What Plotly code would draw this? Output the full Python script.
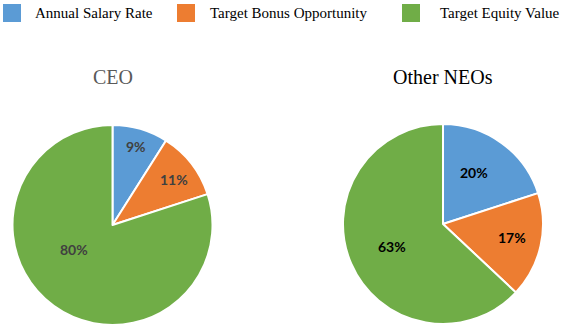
import plotly.graph_objects as go

# Pay-mix components and shares (%)
components = ["Annual Salary Rate", "Target Bonus Opportunity", "Target Equity Value"]
ceo_mix = [9, 11, 80]
neo_mix = [20, 17, 63]
group_titles = ["CEO", "Other NEOs"]

W, H = 565, 327
colors = ["#5B9BD5", "#ED7D31", "#70AD47"]
serif = "Liberation Serif, Times New Roman, serif"
sans = "Lato, Carlito, Calibri, sans-serif"


def px_to_paper(x, y):
    return x / W, 1 - y / H


# Pie placement (centre x, centre y, radius) in pixels
pies = [
    dict(cx=112.5, cy=225, r=100, title_color="#595959", label_color="#404040",
         label_pos=[(136, 146), (174, 179), (74, 249)]),
    dict(cx=443, cy=224, r=100, title_color="#000000", label_color="#000000",
         label_pos=[(474, 172), (512, 237), (392, 247)]),
]

fig = go.Figure()
annotations = []
shapes = []

for vals, title, p in zip([ceo_mix, neo_mix], group_titles, pies):
    x0, y1 = px_to_paper(p["cx"] - p["r"], p["cy"] - p["r"])
    x1, y0 = px_to_paper(p["cx"] + p["r"], p["cy"] + p["r"])
    fig.add_trace(go.Pie(
        labels=components,
        values=vals,
        sort=False,
        direction="clockwise",
        rotation=0,
        marker=dict(colors=colors, line=dict(color="white", width=2)),
        textinfo="none",
        hoverinfo="label+percent",
        showlegend=False,
        domain=dict(x=[x0, x1], y=[y0, y1]),
    ))
    tx, ty = px_to_paper(p["cx"], 77)
    annotations.append(dict(
        x=tx, y=ty, xref="paper", yref="paper", text=title, showarrow=False,
        xanchor="center", yanchor="middle",
        font=dict(family=serif, size=20, color=p["title_color"]),
    ))
    for v, (lx, ly) in zip(vals, p["label_pos"]):
        ax, ay = px_to_paper(lx, ly)
        annotations.append(dict(
            x=ax, y=ay, xref="paper", yref="paper", text=f"<b>{v}%</b>",
            showarrow=False, xanchor="center", yanchor="middle",
            font=dict(family=sans, size=14, color=p["label_color"]),
        ))

# Legend row: coloured squares with serif labels
legend_items = [(3, 33), (177, 208), (402, 438)]
for name, col, (sx, tx) in zip(components, colors, legend_items):
    shapes.append(dict(
        type="rect", xref="paper", yref="paper",
        x0=sx / W, x1=(sx + 18) / W, y0=1 - 22 / H, y1=1 - 4 / H,
        fillcolor=col, line=dict(width=0),
    ))
    annotations.append(dict(
        x=tx / W, y=1 - 13 / H, xref="paper", yref="paper", text=name,
        showarrow=False, xanchor="left", yanchor="middle",
        font=dict(family=serif, size=15, color="#000000"),
    ))

fig.update_layout(
    width=W, height=H,
    margin=dict(l=0, r=0, t=0, b=0),
    paper_bgcolor="white", plot_bgcolor="white",
    annotations=annotations, shapes=shapes,
)

fig.write_html("out.html")
